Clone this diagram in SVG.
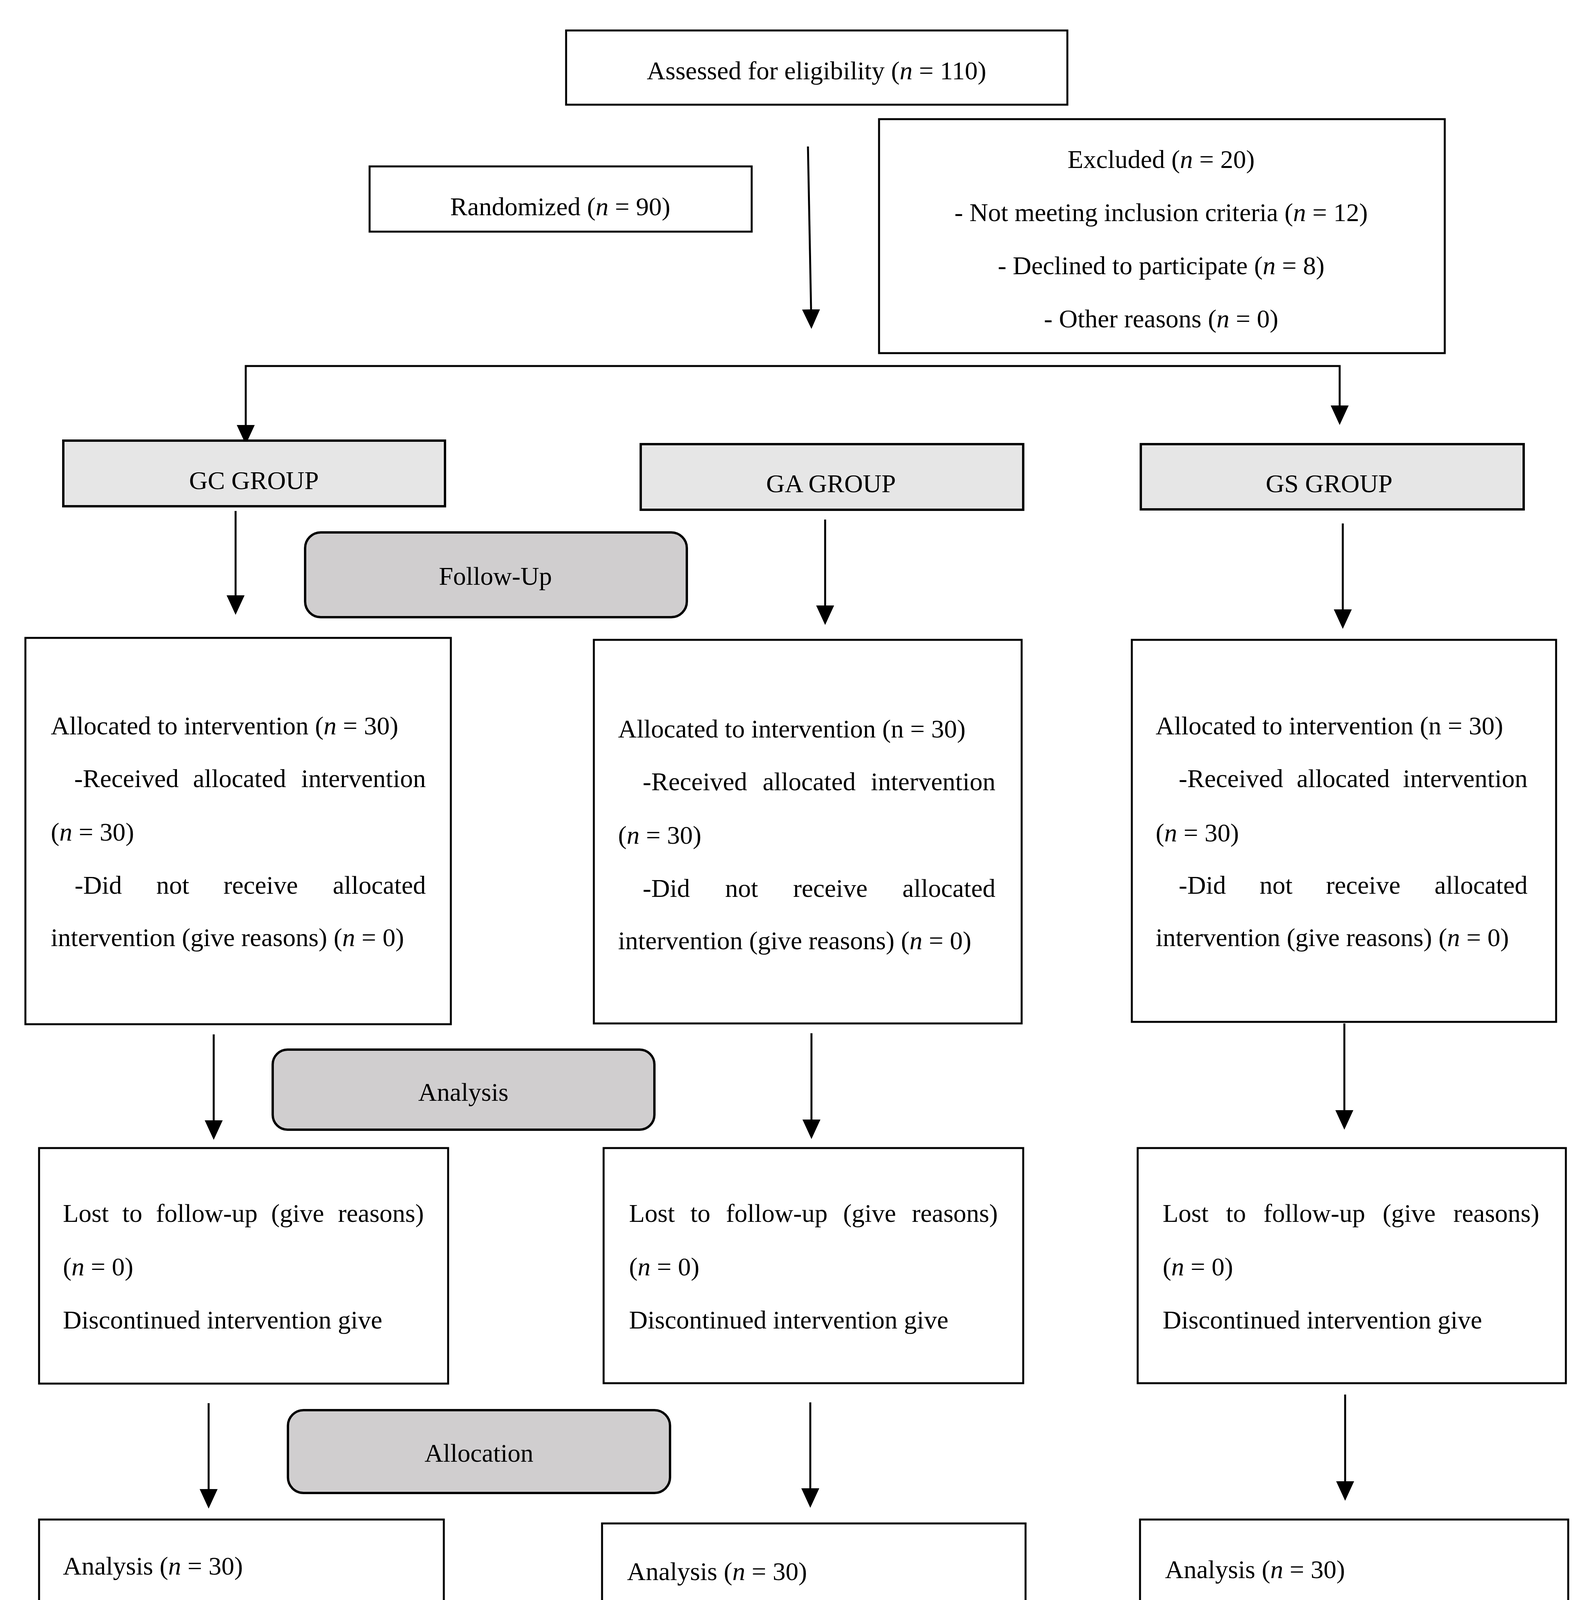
<svg xmlns="http://www.w3.org/2000/svg" width="4080" height="4468" viewBox="0 0 4080 4468">
<style>
.box{fill:#fff;stroke:#000;stroke-width:5}
.grp{fill:#e6e6e6;stroke:#000;stroke-width:6}
.phase{fill:#d0cecf;stroke:#000;stroke-width:6}
.t{font-family:"Liberation Serif","Times New Roman",serif;font-size:66px;fill:#000}
.c{text-anchor:middle}
.e{text-anchor:end}
.i{font-style:italic}
.ln{fill:none;stroke:#000;stroke-width:5}
</style>
<defs>
<marker id="ah" markerUnits="userSpaceOnUse" markerWidth="50" markerHeight="46" viewBox="0 0 50 46" refX="0" refY="23" orient="auto-start-reverse">
<path d="M0,0 L50,23 L0,46 Z" fill="#000"/>
</marker>
</defs>
<rect width="4080" height="4468" fill="#fff"/>

<g id="connectors">
<line class="ln" x1="2068" y1="375" x2="2076" y2="792" marker-end="url(#ah)"/>
<path class="ln" d="M3429,1038 L3429,937 L629,937 L629,1088" marker-start="url(#ah)" marker-end="url(#ah)"/>
<line class="ln" x1="603" y1="1308" x2="603" y2="1524" marker-end="url(#ah)"/>
<line class="ln" x1="2112" y1="1330" x2="2112" y2="1550" marker-end="url(#ah)"/>
<line class="ln" x1="3437" y1="1340" x2="3437" y2="1560" marker-end="url(#ah)"/>
<line class="ln" x1="547" y1="2648" x2="547" y2="2868" marker-end="url(#ah)"/>
<line class="ln" x1="2077" y1="2645" x2="2077" y2="2866" marker-end="url(#ah)"/>
<line class="ln" x1="3441" y1="2620" x2="3441" y2="2842" marker-end="url(#ah)"/>
<line class="ln" x1="534" y1="3592" x2="534" y2="3812" marker-end="url(#ah)"/>
<line class="ln" x1="2074" y1="3590" x2="2074" y2="3810" marker-end="url(#ah)"/>
<line class="ln" x1="3443" y1="3570" x2="3443" y2="3792" marker-end="url(#ah)"/>
</g>

<g id="assessed">
<rect class="box" x="1449" y="78" width="1283" height="190"/>
<text class="t c" x="2090" y="203">Assessed for eligibility (<tspan class="i">n</tspan> = 110)</text>
</g>

<g id="randomized">
<rect class="box" x="946" y="426" width="978" height="167"/>
<text class="t c" x="1434" y="551">Randomized (<tspan class="i">n</tspan> = 90)</text>
</g>

<g id="excluded">
<rect class="box" x="2250" y="305" width="1448" height="599"/>
<text class="t c" x="2972" y="430">Excluded (<tspan class="i">n</tspan> = 20)</text>
<text class="t c" x="2972" y="566">- Not meeting inclusion criteria (<tspan class="i">n</tspan> = 12)</text>
<text class="t c" x="2972" y="702">- Declined to participate (<tspan class="i">n</tspan> = 8)</text>
<text class="t c" x="2972" y="838">- Other reasons (<tspan class="i">n</tspan> = 0)</text>
</g>

<g id="gc-group">
<rect class="grp" x="162" y="1128" width="977" height="168"/>
<text class="t c" x="650" y="1252">GC GROUP</text>
</g>
<g id="ga-group">
<rect class="grp" x="1640" y="1137" width="979" height="168"/>
<text class="t c" x="2127" y="1260">GA GROUP</text>
</g>
<g id="gs-group">
<rect class="grp" x="2920" y="1137" width="980" height="167"/>
<text class="t c" x="3402" y="1260">GS GROUP</text>
</g>

<g id="follow-up">
<rect class="phase" x="781" y="1363" width="977" height="217" rx="40"/>
<text class="t c" x="1268" y="1497">Follow-Up</text>
</g>

<g id="gc-allocated">
<rect class="box" x="65" y="1633" width="1089" height="989"/>
<text class="t" x="130" y="1880">Allocated to intervention (<tspan class="i">n</tspan> = 30)</text>
<text class="t" x="190" y="2015">-Received</text>
<text class="t" x="494" y="2015">allocated</text>
<text class="t e" x="1090" y="2015">intervention</text>
<text class="t" x="130" y="2152">(<tspan class="i">n</tspan> = 30)</text>
<text class="t" x="191" y="2288">-Did</text>
<text class="t" x="400" y="2288">not</text>
<text class="t" x="572" y="2288">receive</text>
<text class="t e" x="1090" y="2288">allocated</text>
<text class="t" x="130" y="2422">intervention (give reasons) (<tspan class="i">n</tspan> = 0)</text>
</g>

<g id="ga-allocated">
<rect class="box" x="1520" y="1638" width="1095" height="982"/>
<text class="t" x="1582" y="1888">Allocated to intervention (n = 30)</text>
<text class="t" x="1645" y="2023">-Received</text>
<text class="t" x="1952" y="2023">allocated</text>
<text class="t e" x="2548" y="2023">intervention</text>
<text class="t" x="1582" y="2160">(<tspan class="i">n</tspan> = 30)</text>
<text class="t" x="1645" y="2296">-Did</text>
<text class="t" x="1856" y="2296">not</text>
<text class="t" x="2030" y="2296">receive</text>
<text class="t e" x="2548" y="2296">allocated</text>
<text class="t" x="1582" y="2430">intervention (give reasons) (<tspan class="i">n</tspan> = 0)</text>
</g>

<g id="gs-allocated">
<rect class="box" x="2897" y="1638" width="1086" height="978"/>
<text class="t" x="2958" y="1880">Allocated to intervention (n = 30)</text>
<text class="t" x="3017" y="2015">-Received</text>
<text class="t" x="3319" y="2015">allocated</text>
<text class="t e" x="3910" y="2015">intervention</text>
<text class="t" x="2958" y="2154">(<tspan class="i">n</tspan> = 30)</text>
<text class="t" x="3017" y="2288">-Did</text>
<text class="t" x="3224" y="2288">not</text>
<text class="t" x="3394" y="2288">receive</text>
<text class="t e" x="3910" y="2288">allocated</text>
<text class="t" x="2958" y="2422">intervention (give reasons) (<tspan class="i">n</tspan> = 0)</text>
</g>

<g id="analysis-phase">
<rect class="phase" x="698" y="2687" width="977" height="205" rx="38"/>
<text class="t c" x="1186" y="2818">Analysis</text>
</g>

<g id="gc-lost">
<rect class="box" x="100" y="2939" width="1047" height="603"/>
<text class="t" x="161" y="3128">Lost</text>
<text class="t" x="313" y="3128">to</text>
<text class="t" x="399" y="3128">follow-up</text>
<text class="t" x="694" y="3128">(give</text>
<text class="t e" x="1085" y="3128">reasons)</text>
<text class="t" x="161" y="3265">(<tspan class="i">n</tspan> = 0)</text>
<text class="t" x="161" y="3401">Discontinued intervention give</text>
</g>

<g id="ga-lost">
<rect class="box" x="1545" y="2939" width="1074" height="602"/>
<text class="t" x="1610" y="3128">Lost</text>
<text class="t" x="1767" y="3128">to</text>
<text class="t" x="1858" y="3128">follow-up</text>
<text class="t" x="2158" y="3128">(give</text>
<text class="t e" x="2554" y="3128">reasons)</text>
<text class="t" x="1610" y="3265">(<tspan class="i">n</tspan> = 0)</text>
<text class="t" x="1610" y="3401">Discontinued intervention give</text>
</g>

<g id="gs-lost">
<rect class="box" x="2912" y="2939" width="1096" height="602"/>
<text class="t" x="2976" y="3128">Lost</text>
<text class="t" x="3138" y="3128">to</text>
<text class="t" x="3234" y="3128">follow-up</text>
<text class="t" x="3539" y="3128">(give</text>
<text class="t e" x="3940" y="3128">reasons)</text>
<text class="t" x="2976" y="3265">(<tspan class="i">n</tspan> = 0)</text>
<text class="t" x="2976" y="3401">Discontinued intervention give</text>
</g>

<g id="allocation-phase">
<rect class="phase" x="737" y="3610" width="978" height="212" rx="40"/>
<text class="t c" x="1226" y="3742">Allocation</text>
</g>

<g id="gc-analysis">
<rect class="box" x="100" y="3890" width="1036" height="510"/>
<text class="t" x="161" y="4031">Analysis (<tspan class="i">n</tspan> = 30)</text>
<text class="t" x="224" y="4170">-Excluded</text>
<text class="t" x="529" y="4170">from</text>
<text class="t" x="691" y="4170">analysis</text>
<text class="t e" x="1073" y="4170">(give</text>
<text class="t" x="161" y="4306">reasons) (<tspan class="i">n</tspan> = 0)</text>
</g>

<g id="ga-analysis">
<rect class="box" x="1541" y="3900" width="1084" height="508"/>
<text class="t" x="1605" y="4045">Analysis (<tspan class="i">n</tspan> = 30)</text>
<text class="t" x="1665" y="4180">-Excluded</text>
<text class="t" x="1985" y="4180">from</text>
<text class="t" x="2162" y="4180">analysis</text>
<text class="t e" x="2561" y="4180">(give</text>
<text class="t" x="1605" y="4315">reasons) (<tspan class="i">n</tspan> = 0)</text>
</g>

<g id="gs-analysis">
<rect class="box" x="2918" y="3890" width="1096" height="510"/>
<text class="t" x="2982" y="4040">Analysis (<tspan class="i">n</tspan> = 30)</text>
<text class="t" x="3042" y="4175">-Excluded</text>
<text class="t" x="3366" y="4175">from</text>
<text class="t" x="3547" y="4175">analysis</text>
<text class="t e" x="3948" y="4175">(give</text>
<text class="t" x="2982" y="4311">reasons) (<tspan class="i">n</tspan> = 0)</text>
</g>
</svg>
